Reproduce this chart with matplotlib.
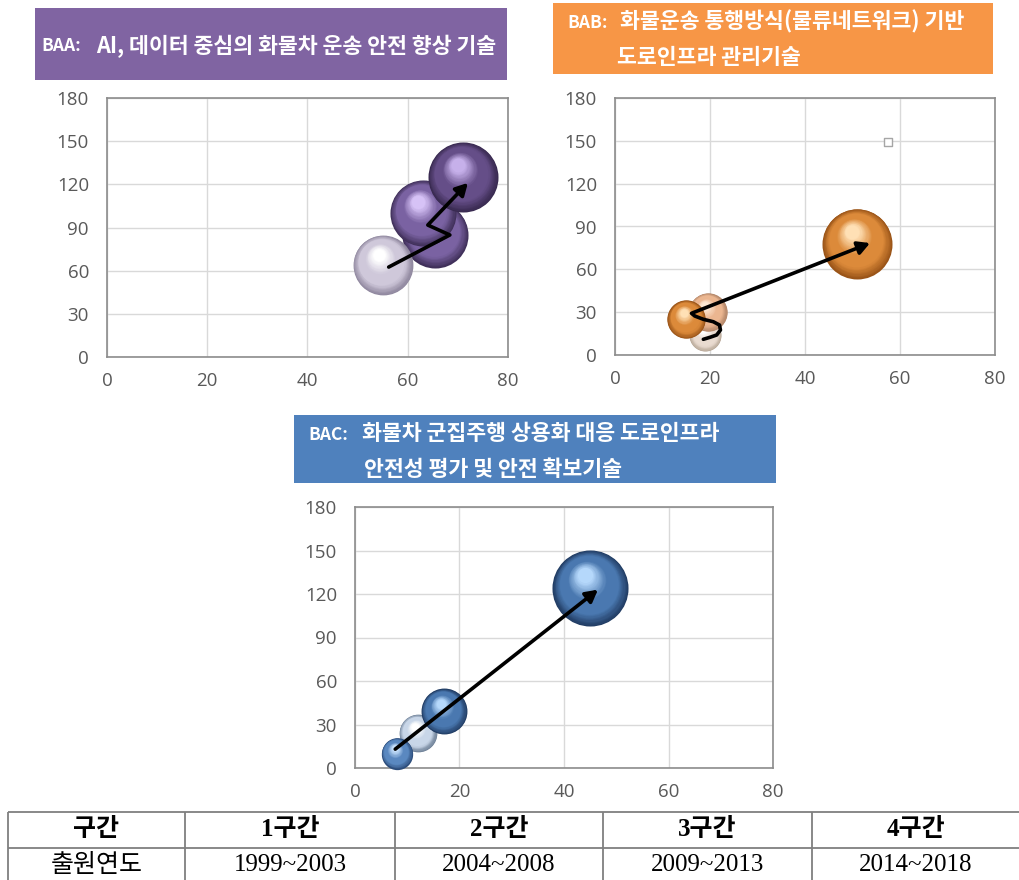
import matplotlib
matplotlib.use("Agg")
import matplotlib.pyplot as plt
from matplotlib.patches import Rectangle, FancyArrowPatch
from matplotlib.path import Path
from matplotlib.colors import LinearSegmentedColormap
from matplotlib.transforms import ScaledTranslation

plt.rcParams['font.family'] = ['Noto Sans CJK KR', 'DejaVu Sans']

# ---- data ----
x_ticks = [0, 20, 40, 60, 80]
y_ticks = [0, 30, 60, 90, 120, 150, 180]

# BAA
baa_x = [55, 65.5, 63, 71]
baa_y = [64, 85, 100, 125]
baa_size = [73, 89, 89, 100]
baa_arrow_x = [56.2, 68.4, 64.0, 72.0]
baa_arrow_y = [62.5, 84.8, 91.7, 121]

# BAB
bab_x = [19, 19.5, 15, 51]
bab_y = [14, 30, 25, 78]
bab_size = [21, 30, 30, 100]
bab_arrow_x = [18.6, 20.0, 21.4, 22.2, 22.0, 20.7, 18.6, 16.8, 16.1, 53.7]
bab_arrow_y = [11.0, 12.4, 14.0, 17.5, 21.0, 23.3, 25.0, 27.3, 29.2, 78.4]
bab_empty_x = [57.5]
bab_empty_y = [149]

# BAC
bac_x = [8, 12, 17, 45]
bac_y = [10, 24, 39, 124]
bac_size = [20, 29, 43, 118]
bac_arrow_x = [7.7, 46.5]
bac_arrow_y = [13, 123]

table_header = ['구간', '1구간', '2구간', '3구간', '4구간']
table_years = ['출원연도', '1999~2003', '2004~2008', '2009~2013', '2014~2018']

# ---- styles ----
purple_light = ('#8f879e', '#cfc8da', '#ffffff')
purple = ('#40305a', '#7a62a2', '#d6c2f6')
purple_dark = ('#38294f', '#654e88', '#c6b0ea')
orange = ('#9a5418', '#dc8a3a', '#ffe0b5')
orange_peach = ('#b4876a', '#ebb690', '#fde8d4')
orange_light = ('#b8a898', '#e9dbd0', '#ffffff')
blue = ('#213c63', '#4a78b0', '#b5d8fb')
blue_small = ('#2c4c7a', '#5a88c0', '#c6e0fb')
blue_light = ('#6c7e95', '#c8d6e8', '#ffffff')

W, H = 1020, 880
fig = plt.figure(figsize=(W / 100, H / 100), dpi=100)

bg = fig.add_axes([0, 0, 1, 1], zorder=0)
bg.set_xlim(0, W)
bg.set_ylim(H, 0)
bg.axis('off')


def sphere(ax, x, y, r_px, cols, n=36):
    cmap = LinearSegmentedColormap.from_list(
        's', [(0, cols[0]), (0.28, cols[1]), (0.6, cols[1]), (1, cols[2])])
    dpi = fig.dpi
    for k in range(n):
        t = k / (n - 1)
        rk = r_px * (1 - 0.8 * t)
        dx = -0.14 * t * r_px
        dy = 0.34 * t * r_px
        tr = ax.transData + ScaledTranslation(dx / dpi, dy / dpi, fig.dpi_scale_trans)
        ax.scatter([x], [y], s=(2 * rk * 72 / dpi) ** 2, color=cmap(t), transform=tr,
                   lw=0, clip_on=False, zorder=3)


def bubble_chart(rect, xs, ys, sizes, palettes, order, ax_x, ax_y):
    ax = fig.add_axes(rect, zorder=1)
    ax.set_xlim(0, 80)
    ax.set_ylim(0, 180)
    ax.set_xticks(x_ticks)
    ax.set_yticks(y_ticks)
    ax.grid(True, color='#d9d9d9', lw=1)
    ax.set_axisbelow(True)
    for s in ax.spines.values():
        s.set_color('#8c8c8c')
        s.set_linewidth(1.2)
    ax.tick_params(length=0, labelsize=13.5, labelcolor='#595959')
    ax.tick_params(axis='x', pad=11)
    ax.tick_params(axis='y', pad=13)
    for lab in ax.get_xticklabels() + ax.get_yticklabels():
        lab.set_fontfamily('Open Sans')
    for i in order:
        r = 3.5 * sizes[i] ** 0.5
        sphere(ax, xs[i], ys[i], r, palettes[i])
    path = Path(list(zip(ax_x, ax_y)))
    arrow = FancyArrowPatch(path=path, arrowstyle='-|>,head_length=0.55,head_width=0.3',
                            mutation_scale=13, lw=2.6, color='black',
                            transform=ax.transData, joinstyle='round', capstyle='round',
                            zorder=6, clip_on=False)
    ax.add_patch(arrow)
    return ax


def px_rect(left, top, right, bottom):
    return [left / W, 1 - bottom / H, (right - left) / W, (bottom - top) / H]


bubble_chart(px_rect(107, 98, 508, 357), baa_x, baa_y, baa_size,
             [purple_light, purple, purple, purple_dark], [1, 0, 2, 3],
             baa_arrow_x, baa_arrow_y)

ax2 = bubble_chart(px_rect(615, 98, 995, 355), bab_x, bab_y, bab_size,
                   [orange_light, orange_peach, orange, orange], [0, 1, 2, 3],
                   bab_arrow_x, bab_arrow_y)
ax2.scatter(bab_empty_x, bab_empty_y, marker='s', s=30, facecolor='white',
            edgecolor='#a6a6a6', lw=1, zorder=4)

bubble_chart(px_rect(355, 507, 773, 768), bac_x, bac_y, bac_size,
             [blue_small, blue_light, blue, blue], [1, 0, 2, 3],
             bac_arrow_x, bac_arrow_y)

# ---- title boxes ----
tsize = 15.6
bg.add_patch(Rectangle((35, 8), 472, 72, color='#8064a2', lw=0))
bg.text(41, 46, 'BAA:', color='white', fontsize=12.5, weight='bold', va='center')
bg.text(96, 46, 'AI, 데이터 중심의 화물차 운송 안전 향상 기술', color='white',
        fontsize=tsize, weight='bold', va='center')

bg.add_patch(Rectangle((553, 3), 440, 71, color='#f79646', lw=0))
bg.text(567, 23, 'BAB:', color='white', fontsize=12.5, weight='bold', va='center')
bg.text(620, 22, '화물운송 통행방식(물류네트워크) 기반', color='white',
        fontsize=tsize, weight='bold', va='center')
bg.text(617, 57, '도로인프라 관리기술', color='white',
        fontsize=tsize, weight='bold', va='center')

bg.add_patch(Rectangle((294, 415), 482, 68, color='#4f81bd', lw=0))
bg.text(308, 435, 'BAC:', color='white', fontsize=12.5, weight='bold', va='center')
bg.text(362, 434, '화물차 군집주행 상용화 대응 도로인프라', color='white',
        fontsize=tsize, weight='bold', va='center')
bg.text(364, 469, '안전성 평가 및 안전 확보기술', color='white',
        fontsize=tsize, weight='bold', va='center')

# ---- table ----
col_edges = [8, 185, 395, 603, 812, 1020]
row_edges = [812, 848, 880]
tfont = ['Liberation Serif', 'Noto Sans CJK KR']
bg.hlines(row_edges[:2], col_edges[0], col_edges[-1], color='#7f7f7f', lw=1.3)
bg.vlines(col_edges[:-1], row_edges[0], row_edges[-1], color='#7f7f7f', lw=1.3)
for i in range(len(table_header)):
    cx = (col_edges[i] + col_edges[i + 1]) / 2
    bg.text(cx, 830, table_header[i], ha='center', va='center', fontsize=18,
            weight='bold', family=tfont)
    bg.text(cx, 865, table_years[i], ha='center', va='center', fontsize=18,
            family=tfont)

fig.savefig('out.png', dpi=100)
